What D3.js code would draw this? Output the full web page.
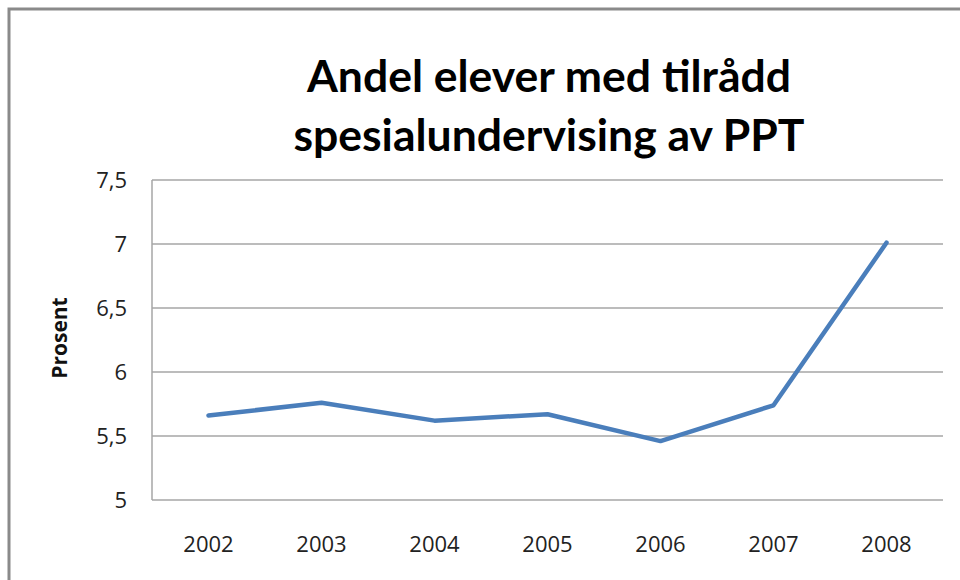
<!DOCTYPE html>
<html><head><meta charset="utf-8">
<script src="https://cdn.jsdelivr.net/npm/d3@7"></script>
<style>body{margin:0;background:#fff}svg{display:block}</style>
</head><body>
<svg id="c" width="960" height="580"></svg>
<script>
const years = ["2002","2003","2004","2005","2006","2007","2008"];
const values = [5.66, 5.76, 5.62, 5.67, 5.46, 5.74, 7.01];
const yTicks = [5, 5.5, 6, 6.5, 7, 7.5];
const titleLines = ["Andel elever med tilrådd", "spesialundervising av PPT"];
const yLabel = "Prosent";

(function(){
const svg = d3.select("#c");
svg.append("rect").attr("x",9).attr("y",9).attr("width",1000).attr("height",1000)
  .attr("fill","#fff").attr("stroke","#8a8a8a").attr("stroke-width",3);

const pl=152, pr=943, pt=180, pb=500;
const x = d3.scaleBand().domain(years).range([pl,pr]);
const y = d3.scaleLinear().domain([5,7.5]).range([pb,pt]);

svg.append("g").selectAll("line").data(yTicks).join("line")
  .attr("x1",pl).attr("x2",pr).attr("y1",d=>y(d)).attr("y2",d=>y(d))
  .attr("stroke","#a6a6a6").attr("stroke-width",1.5);
svg.append("line").attr("x1",pl).attr("x2",pl).attr("y1",pt).attr("y2",pb)
  .attr("stroke","#a6a6a6").attr("stroke-width",1.5);

const fmt = d => String(d).replace(".", ",");
svg.append("g").selectAll("text").data(yTicks).join("text")
  .attr("x",127).attr("y",d=>y(d)).attr("dy","0.35em").attr("text-anchor","end")
  .attr("font-family","Open Sans").attr("font-size",22).attr("fill","#222")
  .text(fmt);
svg.append("g").selectAll("text").data(years).join("text")
  .attr("x",d=>x(d)+x.bandwidth()/2).attr("y",544).attr("dy","0.35em").attr("text-anchor","middle")
  .attr("font-family","Open Sans").attr("font-size",22).attr("fill","#222")
  .text(d=>d);

svg.append("text").attr("transform","translate(60,338) rotate(-90)")
  .attr("text-anchor","middle").attr("dy","0.35em")
  .attr("font-family","Open Sans").attr("font-weight","bold").attr("font-size",21).attr("fill","#111")
  .text(yLabel);

svg.append("g").selectAll("text").data(titleLines).join("text")
  .attr("x",549).attr("y",(d,i)=>92+i*58.5).attr("text-anchor","middle")
  .attr("font-family","Lato").attr("font-weight","bold").attr("font-size",44.5).attr("fill","#000")
  .text(d=>d);

const line = d3.line().x((d,i)=>x(years[i])+x.bandwidth()/2).y(d=>y(d));
svg.append("path").datum(values).attr("d",line).attr("fill","none")
  .attr("stroke","#4a7ebb").attr("stroke-width",4.5).attr("stroke-linejoin","round").attr("stroke-linecap","round");
})();
</script>
</body></html>
